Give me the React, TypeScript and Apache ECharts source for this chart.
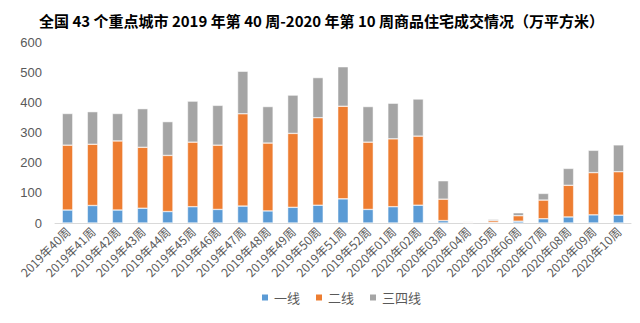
import React, { useEffect, useRef } from "react";
import * as echarts from "echarts";

const categories = [
  "2019年40周", "2019年41周", "2019年42周", "2019年43周", "2019年44周", "2019年45周",
  "2019年46周", "2019年47周", "2019年48周", "2019年49周", "2019年50周", "2019年51周",
  "2019年52周", "2020年01周", "2020年02周", "2020年03周", "2020年04周", "2020年05周",
  "2020年06周", "2020年07周", "2020年08周", "2020年09周", "2020年10周",
];
const tier1 = [43, 58, 43, 49, 38, 54, 45, 56, 40, 52, 59, 80, 45, 54, 59, 8, 1, 2, 6, 14, 20, 27, 26];
const tier2 = [215, 203, 229, 202, 186, 214, 213, 306, 225, 245, 290, 307, 223, 225, 229, 71, 2, 6, 18, 62, 105, 140, 144];
const tier34 = [105, 108, 91, 128, 112, 136, 132, 141, 121, 127, 133, 131, 118, 118, 123, 61, 2, 4, 10, 22, 56, 74, 89];
const seriesNames = ["一线", "二线", "三四线"];
const colors = ["#5B9BD5", "#ED7D31", "#A5A5A5"];

export default function App() {
  const ref = useRef<HTMLDivElement>(null);
  useEffect(() => {
    if (!ref.current) return;
    const chart = echarts.init(ref.current, null, { renderer: "svg" });
    const data = [tier1, tier2, tier34];
    chart.setOption({
      animation: false,
      title: {
        text: "全国 43 个重点城市 2019 年第 40 周-2020 年第 10 周商品住宅成交情况（万平方米）",
        left: 34,
        top: 8,
        textStyle: { fontSize: 15, fontWeight: "bold", color: "#000", fontFamily: "Noto Sans CJK SC" },
      },
      legend: {
        bottom: 14,
        left: 255,
        itemWidth: 8,
        itemHeight: 8,
        itemGap: 14,
        icon: "rect",
        textStyle: { fontSize: 13, color: "#595959", fontFamily: "Noto Sans CJK SC" },
        data: seriesNames,
      },
      grid: { left: 55, right: 9, top: 42, bottom: 100 },
      xAxis: {
        type: "category",
        data: categories,
        axisLine: { lineStyle: { color: "#D9D9D9" } },
        axisTick: { show: false },
        axisLabel: {
          rotate: 45,
          interval: 0,
          fontSize: 12,
          color: "#595959",
          margin: 6,
          fontFamily: "Noto Sans CJK SC",
        },
      },
      yAxis: {
        type: "value",
        min: 0,
        max: 600,
        interval: 100,
        splitLine: { show: false },
        axisLine: { show: false },
        axisTick: { show: false },
        axisLabel: { fontSize: 13, color: "#595959", margin: 13 },
      },
      series: seriesNames.map((name, i) => ({
        name,
        type: "bar",
        stack: "total",
        barWidth: "42%",
        data: data[i],
        itemStyle: { color: colors[i], borderColor: "#fff", borderWidth: 0.5 },
      })),
    });
    return () => chart.dispose();
  }, []);
  return <div ref={ref} style={{ width: 640, height: 323, position: "absolute", left: 0, top: 0 }} />;
}
